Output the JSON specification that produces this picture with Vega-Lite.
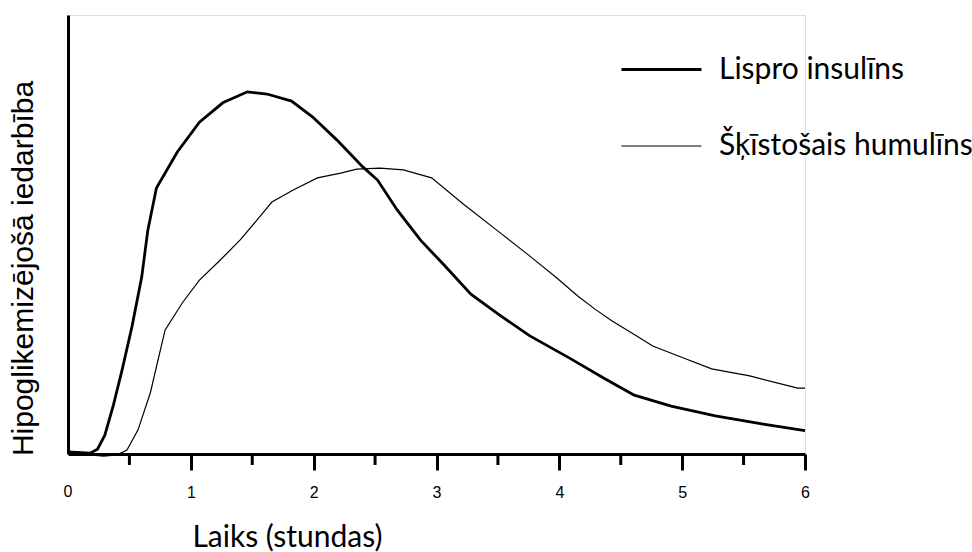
{
  "$schema": "https://vega.github.io/schema/vega-lite/v6.json",
  "autosize": "none",
  "width": 737,
  "height": 439,
  "padding": {"left": 68, "top": 15, "right": 167, "bottom": 98},
  "background": "white",
  "data": {
    "values": [
      {"s": "Lispro insulīns", "t": 0.0, "v": 0.5},
      {"s": "Lispro insulīns", "t": 0.18, "v": 0.2},
      {"s": "Lispro insulīns", "t": 0.24, "v": 1.1},
      {"s": "Lispro insulīns", "t": 0.30, "v": 4.3},
      {"s": "Lispro insulīns", "t": 0.37, "v": 11.2},
      {"s": "Lispro insulīns", "t": 0.44, "v": 19.1},
      {"s": "Lispro insulīns", "t": 0.52, "v": 28.9},
      {"s": "Lispro insulīns", "t": 0.60, "v": 40.3},
      {"s": "Lispro insulīns", "t": 0.65, "v": 51.0},
      {"s": "Lispro insulīns", "t": 0.72, "v": 60.6},
      {"s": "Lispro insulīns", "t": 0.89, "v": 68.8},
      {"s": "Lispro insulīns", "t": 1.07, "v": 75.6},
      {"s": "Lispro insulīns", "t": 1.26, "v": 80.0},
      {"s": "Lispro insulīns", "t": 1.46, "v": 82.5},
      {"s": "Lispro insulīns", "t": 1.62, "v": 82.0},
      {"s": "Lispro insulīns", "t": 1.82, "v": 80.4},
      {"s": "Lispro insulīns", "t": 1.99, "v": 76.8},
      {"s": "Lispro insulīns", "t": 2.19, "v": 71.5},
      {"s": "Lispro insulīns", "t": 2.40, "v": 65.4},
      {"s": "Lispro insulīns", "t": 2.52, "v": 62.4},
      {"s": "Lispro insulīns", "t": 2.68, "v": 55.6},
      {"s": "Lispro insulīns", "t": 2.87, "v": 48.7},
      {"s": "Lispro insulīns", "t": 3.06, "v": 43.1},
      {"s": "Lispro insulīns", "t": 3.28, "v": 36.4},
      {"s": "Lispro insulīns", "t": 3.50, "v": 31.9},
      {"s": "Lispro insulīns", "t": 3.76, "v": 26.9},
      {"s": "Lispro insulīns", "t": 4.08, "v": 21.9},
      {"s": "Lispro insulīns", "t": 4.36, "v": 17.3},
      {"s": "Lispro insulīns", "t": 4.61, "v": 13.4},
      {"s": "Lispro insulīns", "t": 4.91, "v": 10.9},
      {"s": "Lispro insulīns", "t": 5.27, "v": 8.7},
      {"s": "Lispro insulīns", "t": 5.66, "v": 6.8},
      {"s": "Lispro insulīns", "t": 6.0, "v": 5.3},
      {"s": "Šķīstošais humulīns", "t": 0.0, "v": 0.4},
      {"s": "Šķīstošais humulīns", "t": 0.18, "v": -0.2},
      {"s": "Šķīstošais humulīns", "t": 0.29, "v": -0.5},
      {"s": "Šķīstošais humulīns", "t": 0.40, "v": -0.2},
      {"s": "Šķīstošais humulīns", "t": 0.48, "v": 0.9},
      {"s": "Šķīstošais humulīns", "t": 0.57, "v": 5.5},
      {"s": "Šķīstošais humulīns", "t": 0.67, "v": 13.9},
      {"s": "Šķīstošais humulīns", "t": 0.79, "v": 28.2},
      {"s": "Šķīstošais humulīns", "t": 0.93, "v": 34.4},
      {"s": "Šķīstošais humulīns", "t": 1.07, "v": 39.6},
      {"s": "Šķīstošais humulīns", "t": 1.24, "v": 44.2},
      {"s": "Šķīstošais humulīns", "t": 1.40, "v": 48.7},
      {"s": "Šķīstošais humulīns", "t": 1.56, "v": 54.0},
      {"s": "Šķīstošais humulīns", "t": 1.66, "v": 57.4},
      {"s": "Šķīstošais humulīns", "t": 1.83, "v": 60.1},
      {"s": "Šķīstošais humulīns", "t": 2.03, "v": 62.9},
      {"s": "Šķīstošais humulīns", "t": 2.22, "v": 64.0},
      {"s": "Šķīstošais humulīns", "t": 2.35, "v": 64.9},
      {"s": "Šķīstošais humulīns", "t": 2.54, "v": 65.1},
      {"s": "Šķīstošais humulīns", "t": 2.73, "v": 64.7},
      {"s": "Šķīstošais humulīns", "t": 2.96, "v": 62.9},
      {"s": "Šķīstošais humulīns", "t": 3.22, "v": 56.9},
      {"s": "Šķīstošais humulīns", "t": 3.49, "v": 51.0},
      {"s": "Šķīstošais humulīns", "t": 3.75, "v": 45.3},
      {"s": "Šķīstošais humulīns", "t": 3.97, "v": 40.3},
      {"s": "Šķīstošais humulīns", "t": 4.15, "v": 36.0},
      {"s": "Šķīstošais humulīns", "t": 4.29, "v": 33.0},
      {"s": "Šķīstošais humulīns", "t": 4.43, "v": 30.3},
      {"s": "Šķīstošais humulīns", "t": 4.63, "v": 26.9},
      {"s": "Šķīstošais humulīns", "t": 4.76, "v": 24.6},
      {"s": "Šķīstošais humulīns", "t": 4.99, "v": 22.1},
      {"s": "Šķīstošais humulīns", "t": 5.24, "v": 19.4},
      {"s": "Šķīstošais humulīns", "t": 5.55, "v": 17.8},
      {"s": "Šķīstošais humulīns", "t": 5.94, "v": 15.0},
      {"s": "Šķīstošais humulīns", "t": 6.0, "v": 15.0}
    ]
  },
  "layer": [
    {
      "mark": {"type": "line", "color": "black", "clip": false},
      "encoding": {
        "x": {
          "field": "t",
          "type": "quantitative",
          "scale": {"domain": [0, 6], "nice": false, "zero": false},
          "axis": {
            "values": [1, 2, 3, 4, 5, 6],
            "grid": false,
            "domainColor": "black",
            "domainWidth": 3,
            "tickColor": "black",
            "tickWidth": 3,
            "tickSize": 16,
            "zindex": 2,
            "format": "d",
            "labelFont": "Liberation Sans",
            "labelFontSize": 16,
            "labelColor": "black",
            "labelPadding": 14,
            "labelFlush": false,
            "labelOverlap": false,
            "title": "Laiks (stundas)",
            "titleFont": "Lato",
            "titleFontSize": 30,
            "titleFontWeight": "normal",
            "titleColor": "black",
            "titleX": 219,
            "titleY": 92,
            "titleAlign": "center",
            "titleBaseline": "alphabetic"
          }
        },
        "y": {
          "field": "v",
          "type": "quantitative",
          "scale": {"domain": [0, 100], "nice": false, "zero": false},
          "axis": {
            "grid": false,
            "ticks": false,
            "labels": false,
            "domainColor": "black",
            "domainWidth": 3,
            "title": "Hipoglikemizējošā iedarbība",
            "titleFont": "Liberation Sans",
            "titleFontSize": 30,
            "titleFontWeight": "normal",
            "titleColor": "black",
            "titleAngle": -90,
            "titleX": -36,
            "titleY": 253,
            "titleAlign": "center",
            "titleBaseline": "alphabetic"
          }
        },
        "strokeWidth": {
          "field": "s",
          "type": "ordinal",
          "scale": {"domain": ["Lispro insulīns", "Šķīstošais humulīns"], "range": [2.8, 1.2]},
          "legend": {
            "title": null,
            "orient": "none",
            "legendX": 552,
            "legendY": 13,
            "symbolType": "stroke",
            "symbolSize": 6400,
            "symbolStrokeColor": "black",
            "labelFont": "Lato",
            "labelFontSize": 30,
            "labelColor": "black",
            "labelOffset": 16,
            "rowPadding": 20,
            "labelLimit": 400
          }
        }
      }
    },
    {
      "data": {"values": [{"tick": 0.5}, {"tick": 1.5}, {"tick": 2.5}, {"tick": 3.5}, {"tick": 4.5}, {"tick": 5.5}]},
      "mark": {"type": "rule", "color": "black", "strokeWidth": 3, "clip": false},
      "encoding": {
        "x": {"field": "tick", "type": "quantitative"},
        "y": {"datum": 0},
        "y2": {"datum": -2.5}
      }
    },
    {
      "data": {"values": [{"label": "0", "at": 0}]},
      "mark": {"type": "text", "font": "Liberation Sans", "fontSize": 16, "color": "black", "baseline": "top", "dy": 30},
      "encoding": {
        "x": {"field": "at", "type": "quantitative"},
        "y": {"datum": 0},
        "text": {"field": "label"}
      }
    }
  ]
}
